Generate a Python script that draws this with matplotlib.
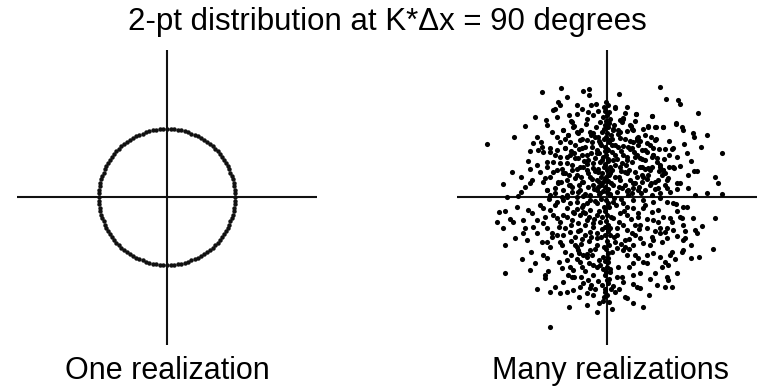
import matplotlib.pyplot as plt
import numpy as np

plt.rcParams['font.family'] = ['Liberation Sans', 'DejaVu Sans']

title = "2-pt distribution at K*\u0394x = 90 degrees"
left_label = "One realization"
right_label = "Many realizations"

# one realization: point pairs sit on a circle (amplitude units)
circle_radius = 68
phase_deg = list(range(0, 360, 3))

# many realizations: (x, y) pairs, amplitude units
scatter_pts = [
    (-120, 53), (-65, 105), (-46, 109), (-24, 106), (-18, 108), (-18, 102), (-11, 93),
    (-49, 95), (-47, 92), (-52, 88), (-54, 87), (-30, 83), (-19, 85), (-61, 77), (-60, 72),
    (-82, 71), (-93, 60), (-36, 76), (-21, 73), (-14, 64), (-44, 67), (-33, 71), (-30, 65),
    (-74, 54), (-66, 55), (-65, 50), (-69, 47), (-77, 46), (-95, 25), (-104, 13), (-79, 36),
    (-77, 28), (-75, 17), (-77, 14), (-82, 10), (-100, 0), (-89, 1),
    (-57, 45), (-50, 47), (-42, 49), (-37, 55), (-39, 62), (-27, 57), (-22, 50), (-15, 55),
    (-10, 47), (-47, 40), (-54, 35), (-60, 30), (-40, 34), (-32, 39), (-25, 42), (-19, 37),
    (-12, 39), (-50, 27), (-44, 24), (-35, 27), (-27, 30), (-20, 27), (-14, 29), (-57, 20),
    (-64, 15), (-49, 15), (-40, 17), (-32, 19), (-24, 15), (-17, 20), (-10, 17), (-60, 7),
    (-52, 9), (-44, 7), (-35, 10), (-27, 7), (-19, 10), (-10, 7), (-67, 25), (-70, 32),
    (-57, 2), (-40, 0), (-24, 1),
    (-3, 90), (-4, 80), (-2, 72), (-5, 65), (-3, 58), (-6, 52), (-2, 46), (-4, 40), (-7, 35),
    (-3, 30), (-5, 24), (-2, 18), (-6, 12), (-4, 6), (-8, 3), (-9, 60), (-8, 44), (-9, 28),
    (-7, 75), (-8, 15),
    (-35, 75), (-44, 67), (-34, 70), (-39, 62), (-29, 64), (-17, 65), (-12, 60), (-20, 57),
    (-47, 55), (-57, 49), (-64, 45), (-42, 49), (-32, 52), (-25, 49), (-15, 50), (-7, 54),
    (-52, 42), (-37, 42), (-29, 39), (-20, 42), (-10, 44), (-60, 35), (-47, 34), (-35, 32),
    (-24, 30), (-14, 34), (-5, 37), (-54, 25), (-42, 24), (-30, 22), (-19, 24), (-9, 25),
    (-62, 19), (-49, 14), (-37, 12), (-25, 15), (-14, 12), (-4, 15), (-60, 7), (-52, 4),
    (-40, 2), (-29, 5), (-17, 2), (-7, 4),
    (53, 110), (12, 103), (8, 90), (59, 98), (71, 97), (73, 93), (91, 84), (29, 83), (45, 81),
    (16, 78), (15, 75), (6, 67), (13, 65), (24, 71), (26, 67), (41, 71), (48, 70), (56, 70),
    (69, 74), (75, 70), (76, 67), (86, 64), (87, 60), (100, 62), (115, 44), (77, 53), (65, 48),
    (48, 57), (40, 54), (30, 59), (26, 55), (35, 47), (46, 42), (45, 40), (23, 48), (16, 51),
    (8, 52), (73, 31), (67, 29), (87, 26), (90, 26), (81, 22), (108, 20), (111, 14), (73, 14),
    (81, 9), (88, 2), (100, 4), (115, 3), (56, 27), (61, 19), (53, 32), (50, 35), (38, 37),
    (33, 30), (43, 27), (51, 17), (43, 12), (60, 9), (53, 4), (36, 20), (26, 14), (31, 7),
    (20, 24), (13, 30), (6, 37), (20, 37), (28, 40), (13, 17), (6, 12), (21, 7), (3, 24),
    (1, 47),
    (2, 85), (3, 78), (1, 70), (4, 62), (2, 55), (5, 45), (1, 38), (3, 30), (2, 22), (4, 14),
    (1, 8), (3, 3),
    (8, 89), (29, 83), (45, 81), (13, 77), (16, 79), (41, 70), (49, 70), (56, 70), (23, 72),
    (25, 68), (69, 73), (11, 67), (6, 68), (31, 60), (30, 57), (49, 58), (13, 59), (5, 52),
    (11, 50), (21, 50), (25, 49), (31, 52), (38, 47), (40, 45), (46, 49), (66, 49), (20, 40),
    (33, 39), (46, 42), (50, 39), (8, 42), (15, 34), (25, 35), (35, 30), (41, 29), (53, 30),
    (56, 27), (66, 30), (18, 25), (28, 25), (41, 22), (58, 24), (8, 20), (23, 17), (35, 15),
    (48, 15), (60, 17), (70, 14), (15, 9), (26, 9), (38, 7), (51, 9), (63, 5), (3, 2), (21, 2),
    (45, 2),
    (-108, -15), (-102, -14), (-110, -25), (-97, -22), (-94, -25), (-104, -31), (-102, -48),
    (-102, -76), (-57, -130), (-84, -23), (-79, -13), (-75, -16), (-70, -23), (-82, -31),
    (-74, -30), (-84, -36), (-92, -41), (-80, -43), (-64, -26), (-60, -31), (-65, -45),
    (-60, -45), (-57, -50), (-47, -45), (-45, -48), (-64, -58), (-60, -61), (-72, -66),
    (-77, -73), (-59, -74), (-62, -78), (-62, -81), (-70, -92), (-57, -95), (-52, -90),
    (-47, -96), (-40, -95), (-34, -93), (-27, -90), (-24, -86), (-19, -83), (-14, -98),
    (-17, -91), (-40, -63), (-37, -70), (-34, -73), (-39, -78), (-35, -80), (-45, -71),
    (-27, -65), (-25, -70), (-24, -58), (-20, -60), (-29, -53), (-32, -48), (-30, -50),
    (-17, -53), (-15, -58), (-10, -48), (-10, -70), (-14, -78), (-55, -36), (-50, -38),
    (-50, -21), (-47, -25), (-42, -31), (-37, -35), (-32, -40), (-27, -33), (-22, -38),
    (-17, -35), (-10, -41), (-57, -13), (-54, -18), (-40, -11), (-34, -15), (-27, -18),
    (-20, -23), (-14, -26), (-35, -23), (-29, -26), (-44, -18), (-64, -11), (-50, -5),
    (-44, -3), (-37, -6), (-30, -5), (-24, -8), (-17, -3), (-10, -6), (-24, -15), (-17, -13),
    (-10, -18),
    (-3, -10), (-5, -20), (-2, -30), (-6, -40), (-3, -50), (-4, -60), (-7, -68), (-2, -78),
    (-5, -88), (-3, -100), (-2, -95),
    (108, -21), (106, -52), (95, -29), (88, -33), (90, -36), (86, -21), (84, -61), (76, -28),
    (75, -21), (73, -20), (78, -41), (76, -43), (70, -39), (76, -53), (75, -55), (80, -10),
    (76, -10), (69, -7), (63, -21), (65, -25), (65, -55), (63, -58), (58, -65), (61, -68),
    (55, -70), (60, -80), (61, -83), (58, -90), (65, -90), (43, -82), (48, -76), (33, -76),
    (26, -78), (26, -87), (30, -90), (33, -91), (36, -110), (26, -106), (18, -100), (20, -101),
    (8, -95), (6, -89), (15, -80), (16, -85), (53, -60), (46, -56), (36, -65), (31, -61),
    (26, -66), (20, -58), (11, -70), (3, -75), (40, -58), (43, -48), (55, -45), (60, -41),
    (60, -31), (58, -35), (66, -33), (46, -23), (51, -25), (33, -28), (40, -31), (31, -20),
    (45, -15), (51, -13), (53, -31), (53, -36), (45, -40), (46, -43), (33, -41), (36, -46),
    (25, -36), (26, -48), (18, -43), (16, -53), (8, -45), (10, -51), (10, -31), (16, -28),
    (6, -21), (13, -16), (20, -18), (26, -11), (36, -11), (60, -5), (66, -6), (6, -5),
    (16, -6), (26, -3), (36, -3), (46, -5), (53, -1), (3, -31), (1, -61), (0, -83),
    (2, -10), (4, -20), (1, -28), (3, -38), (2, -48), (5, -55), (1, -65), (3, -72), (2, -82),
    (4, -92),
    (-35, 5), (-28, 12), (-22, 3), (-15, 18), (-9, 10), (-12, -4), (-25, -10), (-33, -16),
    (-18, -20), (-8, -14), (-30, 28), (-20, 33), (-12, 26), (-6, 20), (-26, 20), (-38, 22),
    (10, 5), (18, 12), (25, 4), (32, 10), (12, 20), (22, 27), (30, 20), (38, 28), (8, 32),
    (16, 42), (27, 45), (35, 38), (9, -8), (17, -14), (24, -22), (31, -16), (38, -8),
    (12, -25), (20, -33), (28, -38), (7, -40), (14, -47), (22, -52), (-7, -25), (-14, -30),
    (-22, -28), (-29, -34), (-36, -28), (-10, -36), (-18, -44), (-26, -47), (-12, -52),
    (-20, -57), (-8, -63), (-14, -68), (-4, -72), (-9, -84), (-16, -88), (-40, 40),
    (-33, 44), (-25, 58), (-16, 62), (-11, 70), (-20, 78), (-14, 82), (-26, 67), (5, 58),
    (11, 63), (18, 58), (20, 66), (33, 56), (38, 62), (43, 52), (52, 48), (57, 38), (62, 42),
    (45, 30), (40, 18), (55, 22), (48, 8), (58, 12), (70, 8), (-45, 0), (-52, -8), (-58, -2),
    (-62, -20), (-48, -30), (-55, -40), (-42, -55), (-48, -65), (-30, -62), (-33, -80),
    (-22, -74), (-44, -85), (-28, -100), (-20, -108), (-10, -115), (-38, -110),
    (-1, 95), (1, 92), (-2, 86), (0, 82), (-1, 76), (2, 74), (-3, 68), (0, 64), (-1, 60),
    (2, 57), (-2, 50), (0, 48), (-1, 42), (1, 36), (-2, 33), (0, 27), (-1, 20), (1, 16),
    (-2, 10), (0, 5), (-1, -3), (1, -6), (-2, -14), (0, -18), (-1, -24), (1, -34), (-2, -38),
    (0, -44), (-1, -52), (1, -56), (-2, -64), (0, -70), (-1, -75), (1, -86), (-2, -92),
    (0, -98), (-4, -104), (2, -105),
    (-30, 0), (-20, -6), (-13, 8), (-6, -2), (7, -1), (12, 10), (20, 6), (28, 14), (35, 22),
    (14, 26), (5, 27), (10, 38), (19, 32), (30, 42), (23, 56), (14, 46), (7, 72), (18, 84),
    (-9, 86), (-16, 92), (-25, 88), (-38, 82), (-30, 92), (-42, 58), (-50, 60), (-36, 46),
    (-23, 36), (-16, 44), (-28, 48), (-8, 56), (-45, 28), (-38, 12), (-46, 15), (-30, -12),
    (-40, -20), (-22, -16), (-13, -22), (-5, -32), (-16, -40), (-25, -42), (-36, -44),
    (-44, -38), (-28, -56), (-36, -58), (-18, -66), (-26, -80), (-12, -92), (-20, -96),
    (-8, -106), (5, -112), (12, -92), (10, -80), (22, -70), (28, -58), (18, -50), (10, -38),
    (22, -42), (32, -32), (40, -22), (28, -28), (20, -10), (14, -2), (34, 4), (44, 14),
    (52, 26), (62, 30), (44, 60), (36, 68), (28, 76), (20, 90), (62, 56), (58, 48), (70, 40),
    (80, 44), (84, 36), (94, 50), (70, -14), (78, -34), (84, -48), (92, -60), (68, -62),
    (70, -76), (50, -88), (42, -98), (40, -66), (48, -34), (56, -20), (-67, -8), (-70, -36),
    (-76, -55), (-85, -62), (-90, -10), (-86, 5), (-86, 20), (-70, 60), (-55, 65), (-50, 80),
    (-72, 80), (-40, 100),
]

x_lim = (-150, 150)
y_lim = (-148, 147)

fig = plt.figure(figsize=(7.57, 3.86), dpi=100)
ax_l = fig.add_axes([17 / 757, 41 / 386, 300 / 757, 295 / 386])
ax_r = fig.add_axes([457 / 757, 41 / 386, 300 / 757, 295 / 386])

ph = np.deg2rad(phase_deg)
ax_l.plot(circle_radius * np.cos(ph), -circle_radius * np.sin(ph), 'o',
          color='#111111', markersize=3.2, markeredgewidth=0)

pts = np.array(scatter_pts)
ax_r.plot(pts[:, 0], pts[:, 1], 'o', color='black', markersize=3.7, markeredgewidth=0)

for ax in (ax_l, ax_r):
    ax.axhline(0, color='#111111', lw=1.5, zorder=0)
    ax.axvline(0, color='#111111', lw=1.5, zorder=0)
    ax.set_xlim(x_lim)
    ax.set_ylim(y_lim)
    ax.axis('off')

fig.text(387 / 757, 1 - 22 / 386, title, ha='center', va='center', fontsize=22.5)
fig.text(167 / 757, 1 - 371 / 386, left_label, ha='center', va='center', fontsize=22)
fig.text(610 / 757, 1 - 371 / 386, right_label, ha='center', va='center', fontsize=22)

fig.savefig('out.png', dpi=100)
